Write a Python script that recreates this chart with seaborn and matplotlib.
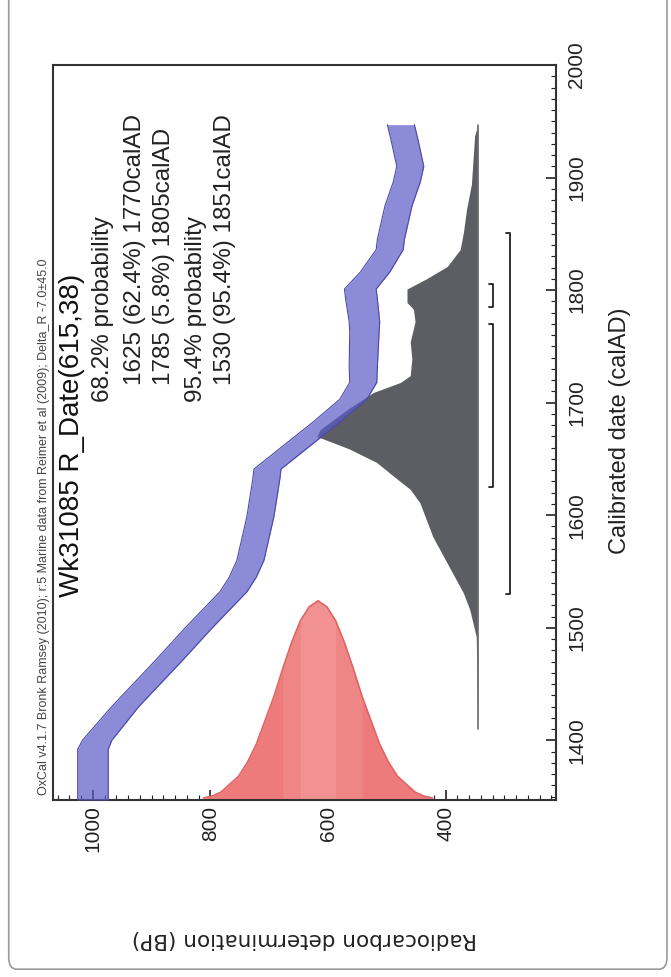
import numpy as np
import matplotlib
matplotlib.use("Agg")
import matplotlib.pyplot as plt
import seaborn as sns
from matplotlib.patches import FancyBboxPatch
from matplotlib.ticker import MultipleLocator

# calibration curve (marine)
cal_year = [1347, 1392, 1400, 1430, 1472, 1500, 1532, 1545, 1560, 1599, 1632, 1641, 1661,
            1671, 1683, 1703, 1718, 1732, 1763, 1772, 1792, 1801, 1816, 1836, 1845, 1875,
            1896, 1910, 1934, 1947]
cal_bp = [1000, 1000, 993, 945, 869, 820, 761, 745, 732, 715, 705, 703, 655,
          631, 602, 557, 540, 540, 538, 538, 543, 545, 520, 495, 493, 480,
          466, 460, 470, 476]
cal_err = [26, 26, 25, 23, 23, 23, 23, 23, 23, 23, 23, 23, 23,
           23, 23, 23, 23, 24, 25, 26, 27, 27, 25, 23, 23, 23,
           23, 23, 23, 23]

# calibrated probability (relative)
post_year = [1410, 1450, 1492, 1516, 1531, 1552, 1581, 1611, 1623, 1632, 1647, 1659, 1670,
             1676, 1694, 1709, 1718, 1724, 1739, 1754, 1772, 1783, 1789, 1801, 1810, 1821,
             1836, 1851, 1872, 1894, 1937, 1947]
post_prob = [0.0, 0.005, 0.01, 0.05, 0.09, 0.17, 0.28, 0.36, 0.42, 0.50, 0.63, 0.80, 1.00,
             0.98, 0.81, 0.65, 0.48, 0.42, 0.41, 0.42, 0.39, 0.40, 0.44, 0.44, 0.32, 0.19,
             0.11, 0.09, 0.07, 0.04, 0.02, 0.0]

# radiocarbon measurement R_Date(615,38) as drawn (relative height)
r_bp = [812, 797, 782, 767, 752, 737, 722, 707, 692, 677, 662, 647, 632, 617,
        602, 587, 572, 557, 542, 527, 512, 497, 482, 467, 452, 437, 422]
r_dens = [0.01, 0.02, 0.04, 0.08, 0.12, 0.19, 0.28, 0.40, 0.52, 0.66, 0.79, 0.90, 0.97, 1.0,
          0.97, 0.90, 0.79, 0.66, 0.52, 0.40, 0.28, 0.19, 0.12, 0.08, 0.04, 0.02, 0.01]
r_mean = 615
r_sigma = 38

ranges_68 = [(1625, 1770), (1785, 1805)]
ranges_95 = [(1530, 1851)]

title = "Wk31085 R_Date(615,38)"
info_lines = ["68.2% probability",
              "1625 (62.4%) 1770calAD",
              "1785 (5.8%) 1805calAD",
              "95.4% probability",
              "1530 (95.4%) 1851calAD"]
credit = "OxCal v4.1.7 Bronk Ramsey (2010); r:5 Marine data from Reimer et al (2009); Delta_R -7.0±45.0"

sns.set_theme(style="ticks")
plt.rcParams['font.family'] = ['Liberation Sans', 'DejaVu Sans']

W, H = 671, 977
fig = plt.figure(figsize=(W / 100, H / 100), dpi=100)


def px(x, y):
    return x / W, 1 - y / H


# rounded frame around the figure
fig.patches.append(FancyBboxPatch((0.013, 0.008), 0.981, 1.05,
                                  boxstyle="round,pad=0,rounding_size=0.012",
                                  transform=fig.transFigure, fill=False,
                                  edgecolor="#9a9a9a", linewidth=1.2))

ax = fig.add_axes([53 / W, 1 - 800 / H, 503 / W, 735 / H])
ymin, ymax = 1347, 2000
ax.set_xlim(1068, 212)
ax.set_ylim(ymin, ymax)

# radiocarbon determination (red)
rb = np.array(r_bp)
ry = ymin + 177 * np.array(r_dens)
ax.fill_between(rb, ymin, ry, color="#ed7b7b", linewidth=0, zorder=2)
for k, col in [(2, "#ef8686"), (1, "#f19191")]:
    m = np.abs(rb - r_mean) <= k * r_sigma
    ax.fill_between(rb[m], ymin, ry[m], color=col, linewidth=0, zorder=2)
sns.lineplot(x=rb, y=ry, sort=False, estimator=None, color="#e06464", linewidth=1.2, ax=ax, zorder=3)

# calibrated distribution (grey)
base = 345
amp = 274
post_year = np.array(post_year)
post_x = base + amp * np.array(post_prob)
ax.fill_betweenx(post_year, base, post_x, color="#5c5e63", linewidth=0, zorder=2)
ax.plot([base, base], [post_year[0], post_year[-1]], color="#6a6c70", linewidth=1.2, zorder=2)

# calibration curve (blue band)
cy = np.array(cal_year)
cb = np.array(cal_bp)
ce = np.array(cal_err)
ax.fill_betweenx(cy, cb - ce, cb + ce, color="#5a5ac8", alpha=0.7, linewidth=0, zorder=4)
sns.lineplot(x=cb - ce, y=cy, sort=False, estimator=None, orient="y", color="#4a4aa8",
             linewidth=0.8, ax=ax, zorder=5)
sns.lineplot(x=cb + ce, y=cy, sort=False, estimator=None, orient="y", color="#4a4aa8",
             linewidth=0.8, ax=ax, zorder=5)

# range brackets
for x0, rr in [(319, ranges_68), (290, ranges_95)]:
    for a, b in rr:
        ax.plot([x0 + 7, x0, x0, x0 + 7], [a, a, b, b], color="#222222", linewidth=1.3, zorder=5)

# axes styling
for s in ax.spines.values():
    s.set_color("#333333")
    s.set_linewidth(1.5)
ax.set_xticks([1000, 800, 600, 400])
ax.xaxis.set_minor_locator(MultipleLocator(20))
ax.set_yticks(range(1400, 2001, 100))
ax.yaxis.set_minor_locator(MultipleLocator(10))
ax.yaxis.tick_right()
ax.tick_params(axis="both", which="both", direction="in", colors="#222222")
ax.tick_params(axis="both", which="major", length=7, width=1.2, labelsize=15)
ax.tick_params(axis="both", which="minor", length=3.5, width=0.8)
ax.tick_params(axis="x", labelrotation=90, top=False, pad=4)
ax.tick_params(axis="y", labelrotation=90, left=False, right=True, pad=8)
for lab in ax.get_yticklabels():
    lab.set_va("center")

# labels
fig.text(*px(620, 431), "Calibrated date (calAD)", rotation=90, ha="center", va="center",
         fontsize=17, color="#222222")
fig.text(*px(304, 939), "Radiocarbon determination (BP)", rotation=180, ha="center",
         va="center", fontsize=15.5, color="#222222", family=["DejaVu Sans"])

fig.text(*px(72, 597), title, rotation=90, rotation_mode="anchor", ha="left", va="center",
         fontsize=20, color="#111111")
info_pos = [(103, 402), (135, 385), (164, 385), (196, 402), (225, 385)]
for (x, y), line in zip(info_pos, info_lines):
    fig.text(*px(x, y), line, rotation=90, rotation_mode="anchor", ha="left", va="center",
             fontsize=17.5, color="#222222")
fig.text(*px(44, 795), credit, rotation=90, rotation_mode="anchor", ha="left", va="center",
         fontsize=9, color="#444444")

fig.savefig("out.png", dpi=100)
